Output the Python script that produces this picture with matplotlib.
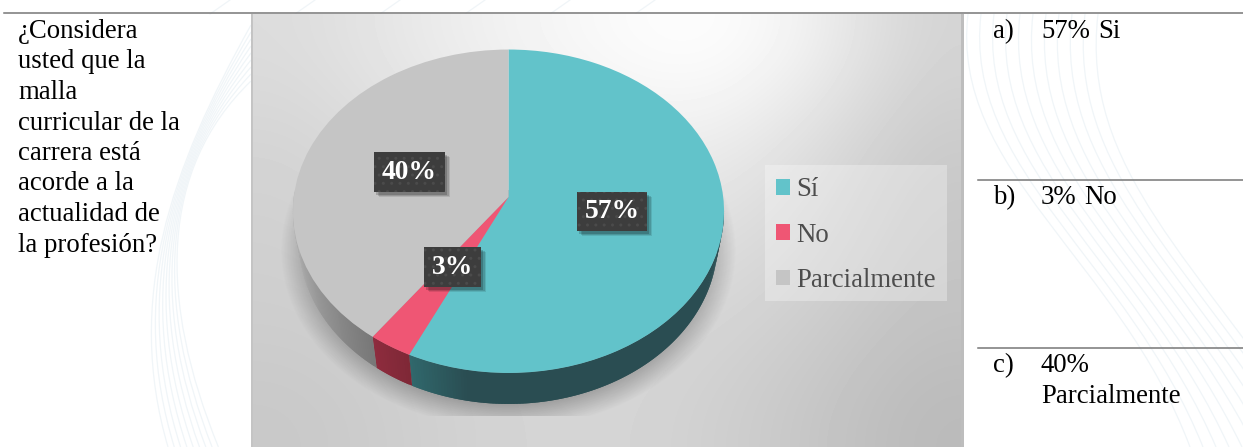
import numpy as np
import matplotlib
matplotlib.use("Agg")
import matplotlib.pyplot as plt
from matplotlib.patches import PathPatch, Rectangle
from matplotlib.path import Path

plt.rcParams['font.family'] = ['Liberation Serif', 'DejaVu Serif']

# Datos del grafico
categories = ['Sí', 'No', 'Parcialmente']
values = [57, 3, 40]
slice_colors = ['#62C3CA', '#EF5674', '#C5C5C5']

question_lines = ['¿Considera', 'usted que la', 'malla', 'curricular de la',
                  'carrera está', 'acorde a la', 'actualidad de', 'la profesión?']
option_marks = ['a)', 'b)', 'c)']
option_pcts = ['57%', '3%', '40%']
option_words = ['Si', 'No']

W, H = 1243, 447
fig = plt.figure(figsize=(W / 100, H / 100), dpi=100, facecolor='white')
ax = fig.add_axes([0, 0, 1, 1])

# Geometria de la tarta en pixeles (perspectiva del 3D de Excel)
CX, APEX_Y, RX0, A, C = 508.5, 197.0, 214.7, -143.1, 0.0881
DEPTH = 31
FONT = 19.25


def project(x, y):
    den = 1 + C * y
    return CX + x * RX0 / den, (A * y + APEX_Y) / den


def rim(theta):
    t = np.radians(theta)
    return project(np.sin(t), np.cos(t))


# Tarta superior
wedges, _ = ax.pie(values, colors=slice_colors, startangle=90, counterclock=False,
                   wedgeprops={'linewidth': 0}, radius=1)
for w in wedges:
    p = w.get_path()
    px, py = project(p.vertices[:, 0], p.vertices[:, 1])
    p.vertices = np.column_stack([px, py])
    w.set_zorder(6)

ax.set_aspect('auto')
ax.axis('off')

# Lineas de fondo (marca de agua)
for i in range(9):
    d = i * 7
    verts = [(251, 25 + d), (170 - d * 0.2, 170), (125 + d * 0.6, 300), (168 + d * 0.9, 447)]
    ax.add_patch(PathPatch(Path(verts, [1, 4, 4, 4]), fc='none', ec='#F0F5F8', lw=0.9, zorder=1))
for i in range(11):
    d = i * 13
    verts = [(968 + d, 14), (950 + d, 170), (1120 + d * 0.6, 260), (1190 + d, 447)]
    ax.add_patch(PathPatch(Path(verts, [1, 4, 4, 4]), fc='none', ec='#F0F5F8', lw=0.9, zorder=1))
for i in range(6):
    d = i * 85
    ax.plot([210 + d, 230 + d], [14, 0], color='#F0F5F8', lw=0.9, zorder=1)

# Panel gris con degradado
panel_grid = np.array([
    [220, 232, 242, 250, 255, 242, 212],
    [212, 222, 230, 236, 238, 222, 202],
    [208, 214, 220, 224, 224, 214, 198],
    [206, 210, 214, 216, 214, 206, 194],
    [200, 206, 212, 214, 208, 198, 186],
], dtype=float) / 255
ax.imshow(panel_grid, extent=(251, 964, 447, 14), cmap='gray', vmin=0, vmax=1,
          interpolation='bicubic', aspect='auto', zorder=2)
ax.add_patch(Rectangle((251, 14), 2, H - 14, fc='#C4C4C4', ec='none', zorder=2.5))
ax.add_patch(Rectangle((961, 14), 3, H - 14, fc='#BDBDBD', ec='none', zorder=2.5))

# Sombra bajo la tarta
yy, xx = np.mgrid[190:416, 280:736]
r = np.sqrt(((xx - 508) / 228.0) ** 2 + ((yy - 250) / 178.0) ** 2)
shadow = np.zeros(r.shape + (4,))
shadow[..., 3] = np.clip((1 - r) / 0.14, 0, 1) * 0.26
ax.imshow(shadow, extent=(280, 736, 416, 190), aspect='auto', zorder=3)
ax.set_xlim(0, W)
ax.set_ylim(H, 0)

# Pared lateral de cada porcion
ends = np.cumsum(values) / np.sum(values) * 360
starts = np.concatenate([[0], ends[:-1]])
wall_stops = [([95, 190, 205], ['#2A4D52', '#2A4D52', '#30686C']),
              ([205, 216], ['#7E2836', '#8E2C3E']),
              ([216, 245, 270], ['#777777', '#A0A0A0', '#BBBBBB'])]
for s, e, (stops, cols) in zip(starts, ends, wall_stops):
    rgb = np.array([matplotlib.colors.to_rgb(c) for c in cols])
    edges = np.arange(max(s, 95), min(e, 272) + 0.5, 0.75)
    edges[-1] = min(e, 272)
    for a0, a1 in zip(edges[:-1], edges[1:]):
        x0, y0 = rim(a0)
        x1, y1 = rim(min(a1 + 0.75, edges[-1]))
        color = [np.interp((a0 + a1) / 2, stops, rgb[:, k]) for k in range(3)]
        bx0, bx1 = CX + (x0 - CX) * 0.97, CX + (x1 - CX) * 0.97
        ax.fill([x0, x1, bx1, bx0], [y0, y1, y1 + DEPTH, y0 + DEPTH],
                color=color, lw=0, zorder=5)

# Etiquetas de datos
label_boxes = [(577, 192, 70, 39), (424, 247, 57, 40), (374, 152, 71, 40)]
for v, (bx, by, bw, bh) in zip(values, label_boxes):
    for k, al in ((5, 0.10), (4, 0.14), (2.5, 0.18)):
        ax.add_patch(Rectangle((bx + k, by + k), bw, bh, fc='black', ec='none', alpha=al, zorder=7))
    ax.add_patch(Rectangle((bx, by), bw, bh, fc='#3D3D3D', ec='#4B4B4B', lw=0, hatch='..', zorder=8))
    ax.text(bx + bw / 2, by + bh / 2 + 0.5, f'{v}%', color='white', fontsize=19.8, fontweight='bold',
            ha='center', va='center', zorder=9)

# Leyenda
ax.add_patch(Rectangle((765, 165), 182, 136, fc='white', ec='none', alpha=0.3, zorder=9))
legend = ax.legend(wedges, categories, loc='upper left', bbox_to_anchor=(765, 166),
                   bbox_transform=ax.transData, fontsize=FONT, frameon=False, labelcolor='#4D4D4D',
                   handlelength=0.53, handleheight=0.53, handletextpad=0.22, labelspacing=0.76,
                   borderpad=0.42, borderaxespad=0)
legend.set_zorder(10)

# Columna izquierda
for i, line in enumerate(question_lines):
    ax.text(18, 38 + i * 30.5, line, fontsize=FONT, color='black', va='baseline', zorder=4)

# Columna derecha
option_y = [38, 204, 372]
for mark, pct, y in zip(option_marks, option_pcts, option_y):
    ax.text(993, y, mark, fontsize=FONT, color='black', va='baseline', zorder=4)
    ax.text(1041, y, pct, fontsize=FONT, color='black', va='baseline', zorder=4)
ax.text(1098, option_y[0], option_words[0], fontsize=FONT, color='black', va='baseline', zorder=4)
ax.text(1084, option_y[1], option_words[1], fontsize=FONT, color='black', va='baseline', zorder=4)
ax.text(1041, 403, categories[2], fontsize=FONT, color='black', va='baseline', zorder=4)

# Lineas de la tabla
ax.plot([4, W], [13, 13], color='#777777', lw=1.1, zorder=11)
ax.plot([978, W], [180, 180], color='#777777', lw=1.1, zorder=11)
ax.plot([978, W], [348, 348], color='#777777', lw=1.1, zorder=11)

fig.savefig('out.png', dpi=100)
